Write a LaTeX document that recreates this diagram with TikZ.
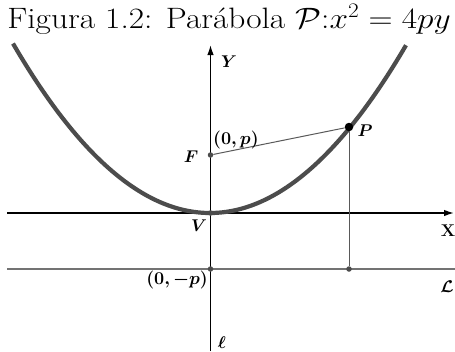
\RequirePackage{fix-cm}
\documentclass[tikz,border=0pt]{standalone}
\usepackage{amsmath,amssymb,bm}
\usetikzlibrary{arrows.meta}
\begin{document}
\begin{tikzpicture}[x=1pt,y=-1pt,
  lab/.style={inner sep=0pt,font=\fontsize{17}{19}\selectfont},
  coordlab/.style={inner sep=0pt,font=\fontsize{18}{20}\selectfont},
  dot/.style={circle,fill=black!70,inner sep=0pt,minimum size=5.5pt},
  axis/.style={black,line width=1.4pt},
]
\useasboundingbox (0,0) rectangle (455,351);
\node[anchor=base,inner sep=0pt,font=\fontsize{29.5}{33}\selectfont] (title) at (229,28) {\scalebox{1.13}[1]{Figura 1.2: Parábola $\mathcal{P}$:$x^2=4py$}};
% coordinates
\coordinate (xl) at (7,213);
\coordinate (xr) at (454,213);
\coordinate (yt) at (210.5,45);
\coordinate (yb) at (210.5,351);
\coordinate (ll) at (7,269);
\coordinate (lr) at (455,269);
% lines
\draw[black!55,line width=2pt] (ll) -- (lr);
\draw[axis,-{Latex[length=10pt,width=6.5pt]}] (xl) -- (xr);
\draw[axis,-{Latex[length=10pt,width=6.5pt]}] (yb) -- (yt);
% parabola
\draw[black!70,line width=4.2pt,domain=-197:196,samples=120] plot ({210+\x},{213-\x*(\x/229)});
\node[dot] (F) at (210.5,155) {};
\node[dot] (V) at (210.5,213) {};
\node[dot,fill=black,minimum size=8.5pt] (P) at (349,127) {};
\node[dot] (D) at (210.5,269) {};
\node[dot] (Q) at (349,269) {};
\draw[black!65,line width=1pt] (F) -- (P);
\draw[black!65,line width=1pt] (P) -- (Q);
% labels
\node[lab] (Ylab) at (229,62) {$\bm{Y}$};
\node[lab] (Xlab) at (448,231) {\textbf{X}};
\node[lab] (Flab) at (191,157) {$\bm{F}$};
\node[lab] (Vlab) at (199,226) {$\bm{V}$};
\node[coordlab,anchor=west] (Fc) at (213,140) {$\bm{(0,p)}$};
\node[coordlab,anchor=east] (Dc) at (208,280) {$\bm{(0,-p)}$};
\node[lab] (Plab) at (365,131) {$\bm{P}$};
\node[lab] (Llab) at (447,287) {$\bm{\mathcal{L}}$};
\node[lab] (ell) at (222,343) {$\bm{\ell}$};
\end{tikzpicture}
\end{document}
